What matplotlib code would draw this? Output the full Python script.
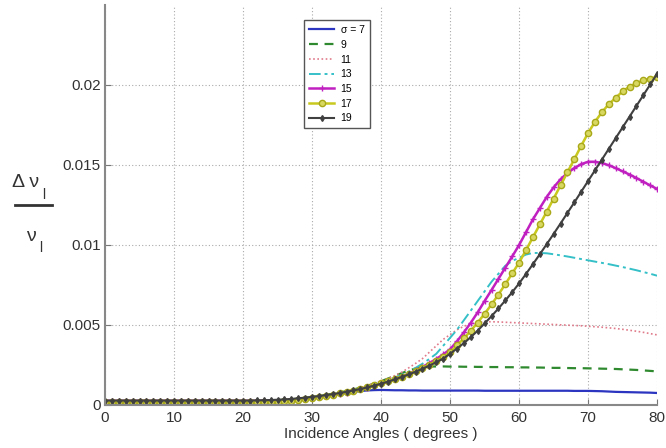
import numpy as np
import matplotlib
matplotlib.use("Agg")
import matplotlib.pyplot as plt

plt.rcParams["font.family"] = ["Liberation Sans", "DejaVu Sans"]

# incidence angle, one point per degree
angles = np.arange(0, 81)

# delta nu / nu for each sigma
s7 = [0.00022] * 20 + [
    0.00022, 0.00022, 0.00022, 0.00023, 0.00024, 0.00026, 0.00028, 0.00031, 0.00035, 0.0004,
    0.00045, 0.00051, 0.00057, 0.00063, 0.0007, 0.00076, 0.00082, 0.00087, 0.00091, 0.00093,
    0.00094, 0.00093, 0.00092, 0.00092, 0.00091, 0.00091, 0.0009, 0.0009, 0.0009, 0.0009,
    0.0009, 0.0009, 0.0009, 0.0009, 0.0009, 0.00089, 0.00089, 0.00089, 0.00089, 0.00089,
    0.00089, 0.00089, 0.00089, 0.00089, 0.00089, 0.00089, 0.00089, 0.00089, 0.00088, 0.00088,
    0.00088, 0.00087, 0.00086, 0.00084, 0.00082, 0.00081, 0.0008, 0.00079, 0.00078, 0.00077,
    0.00075]
s9 = [0.00025] * 20 + [
    0.00025, 0.00025, 0.00026, 0.00027, 0.00028, 0.0003, 0.00032, 0.00035, 0.00039, 0.00044,
    0.0005, 0.00056, 0.00063, 0.0007, 0.00078, 0.00087, 0.00097, 0.00108, 0.0012, 0.00134,
    0.00149, 0.00165, 0.00182, 0.00199, 0.00215, 0.00228, 0.00236, 0.0024, 0.00241, 0.00241,
    0.0024, 0.0024, 0.00239, 0.00239, 0.00238, 0.00238, 0.00237, 0.00237, 0.00236, 0.00236,
    0.00235, 0.00235, 0.00234, 0.00234, 0.00233, 0.00232, 0.00232, 0.00231, 0.0023, 0.0023,
    0.00229, 0.00228, 0.00227, 0.00226, 0.00225, 0.00223, 0.00221, 0.00219, 0.00216, 0.00213,
    0.0021]
s11 = [0.0002] * 20 + [
    0.0002, 0.0002, 0.00021, 0.00022, 0.00023, 0.00025, 0.00027, 0.0003, 0.00034, 0.00039,
    0.00045, 0.00051, 0.00058, 0.00066, 0.00075, 0.00085, 0.00096, 0.00108, 0.00121, 0.00136,
    0.0015, 0.00166, 0.00184, 0.00205, 0.00232, 0.0026, 0.0029, 0.0033, 0.0037, 0.0041,
    0.0044, 0.0047, 0.00492, 0.00507, 0.00515, 0.0052, 0.0052, 0.00519, 0.00517, 0.00515,
    0.00513, 0.00511, 0.00509, 0.00507, 0.00505, 0.00503, 0.00501, 0.00499, 0.00497, 0.00495,
    0.00492, 0.00489, 0.00486, 0.00482, 0.00478, 0.00473, 0.00467, 0.00461, 0.00454, 0.00446,
    0.00438]
s13 = [0.00022] * 20 + [
    0.00022, 0.00022, 0.00022, 0.00023, 0.00024, 0.00026, 0.00028, 0.00031, 0.00035, 0.0004,
    0.00045, 0.0005, 0.00056, 0.00063, 0.00071, 0.0008, 0.0009, 0.00101, 0.00113, 0.00126,
    0.0014, 0.00155, 0.00171, 0.00189, 0.00209, 0.00232, 0.00258, 0.00288, 0.0032, 0.0037,
    0.0042, 0.0047, 0.0053, 0.0059, 0.0065, 0.0071, 0.0077, 0.0082, 0.0087, 0.009,
    0.0092, 0.0094, 0.0095, 0.0095, 0.00948, 0.00942, 0.00935, 0.00928, 0.0092, 0.00912,
    0.00904, 0.00896, 0.00888, 0.0088, 0.00871, 0.00862, 0.00852, 0.00842, 0.00831, 0.0082,
    0.00808]
s15 = [0.00026] * 20 + [
    0.00026, 0.00026, 0.00026, 0.00026, 0.00027, 0.00028, 0.0003, 0.00033, 0.00036, 0.0004,
    0.00045, 0.0005, 0.00056, 0.00063, 0.0007, 0.00078, 0.00087, 0.00097, 0.00108, 0.0012,
    0.00133, 0.00147, 0.00162, 0.00178, 0.00196, 0.00216, 0.00238, 0.00262, 0.00288, 0.00316,
    0.00348, 0.00398, 0.00454, 0.00514, 0.00579, 0.0065, 0.00718, 0.00788, 0.00858, 0.00928,
    0.01, 0.0108, 0.0116, 0.0123, 0.013, 0.0136, 0.0141, 0.0145, 0.0148, 0.01505,
    0.0152, 0.0152, 0.01512, 0.01498, 0.0148, 0.0146, 0.0144, 0.01418, 0.01395, 0.01372,
    0.0135]
s17 = [0.00018] * 20 + [
    0.00017, 0.00017, 0.00017, 0.00018, 0.00019, 0.00021, 0.00024, 0.00028, 0.00033, 0.00038,
    0.00044, 0.0005, 0.00057, 0.00064, 0.00072, 0.00081, 0.0009, 0.001, 0.00111, 0.00124,
    0.00135, 0.00148, 0.00162, 0.00177, 0.00193, 0.0021, 0.0023, 0.00252, 0.00276, 0.00302,
    0.0033, 0.00372, 0.00416, 0.00464, 0.00515, 0.0057, 0.00628, 0.0069, 0.00755, 0.00822,
    0.0089, 0.00968, 0.01048, 0.01128, 0.01208, 0.0129, 0.01372, 0.01454, 0.01536, 0.0162,
    0.017, 0.0177, 0.0183, 0.0188, 0.0192, 0.0196, 0.0199, 0.0201, 0.0203, 0.0204,
    0.0205]
s19 = [0.00028] * 20 + [
    0.00028, 0.00028, 0.00029, 0.0003, 0.00031, 0.00033, 0.00035, 0.00038, 0.00042, 0.00046,
    0.00051, 0.00056, 0.00062, 0.00068, 0.00075, 0.00083, 0.00091, 0.001, 0.0011, 0.00121,
    0.00133, 0.00146, 0.0016, 0.00175, 0.00191, 0.00208, 0.00226, 0.00246, 0.00267, 0.0029,
    0.0032, 0.00353, 0.00387, 0.00424, 0.00465, 0.0051, 0.00555, 0.00603, 0.00653, 0.00705,
    0.0076, 0.00819, 0.0088, 0.00942, 0.01005, 0.01069, 0.01134, 0.012, 0.01266, 0.01333,
    0.014, 0.01467, 0.01534, 0.01601, 0.01668, 0.01735, 0.01802, 0.01869, 0.01936, 0.02003,
    0.0207]

labels = ["σ = 7", "9", "11", "13", "15", "17", "19"]
xticks = [0, 10, 20, 30, 40, 50, 60, 70, 80]
yticks = [0, 0.005, 0.01, 0.015, 0.02]
ytick_labels = ["0", "0.005", "0.01", "0.015", "0.02"]

fig = plt.figure(figsize=(6.66, 4.48), dpi=100)
ax = fig.add_axes([0.1577, 0.096, 0.829, 0.893])

ax.plot(angles, s7, color="#2b35c0", lw=1.6, label=labels[0])
ax.plot(angles, s9, color="#2f8a2f", lw=1.6, ls=(0, (4, 3)), label=labels[1])
ax.plot(angles, s11, color="#e07a8a", lw=1.2, ls=(0, (1, 1.5)), label=labels[2])
ax.plot(angles, s13, color="#35c0c8", lw=1.4, ls=(0, (6, 2, 1.5, 2)), label=labels[3])
ax.plot(angles, s15, color="#c020c0", lw=1.8, marker="+", ms=4, mew=1,
        label=labels[4])
ax.plot(angles, s17, color="#c8c81e", lw=1.8, marker="o", ms=4.5,
        mfc="#d8d860", mec="#a8a818", mew=1, label=labels[5])
ax.plot(angles, s19, color="#404040", lw=1.5, marker="d", ms=3,
        label=labels[6])

ax.set_xlim(0, 80)
ax.set_ylim(0, 0.025)
ax.set_xticks(xticks)
ax.set_yticks(yticks)
ax.set_yticklabels(ytick_labels)
ax.tick_params(direction="in", length=4, color="#777777", labelsize=11,
               labelcolor="#333333")
ax.tick_params(axis="x", pad=4)
ax.tick_params(axis="y", pad=3)

for side in ["top", "right"]:
    ax.spines[side].set_visible(False)
for side in ["left", "bottom"]:
    ax.spines[side].set_color("#888888")
    ax.spines[side].set_linewidth(1.5)

ax.grid(True, ls=(0, (1, 2)), color="#aaaaaa", lw=0.8)

ax.set_xlabel("Incidence Angles ( degrees )", fontsize=11, color="#333333",
              labelpad=2)

# fraction style y label
fig.text(0.018, 0.582, "Δ ν", fontsize=14, color="#333333", ha="left", va="baseline")
fig.text(0.064, 0.556, "l", fontsize=10, color="#333333", ha="left", va="baseline")
fig.add_artist(plt.Line2D([0.023, 0.078], [0.542, 0.542], color="#333333", lw=2))
fig.text(0.039, 0.462, "ν", fontsize=14, color="#333333", ha="left", va="baseline")
fig.text(0.058, 0.438, "l", fontsize=10, color="#333333", ha="left", va="baseline")

leg = ax.legend(loc="upper left", bbox_to_anchor=(0.3605, 0.9625),
                borderaxespad=0, fontsize=7.5, handlelength=2.4,
                labelspacing=0.45, fancybox=False, framealpha=1,
                edgecolor="#555555", borderpad=0.5, handletextpad=0.6)
leg.get_frame().set_linewidth(1.0)

fig.savefig("out.png", dpi=100)
